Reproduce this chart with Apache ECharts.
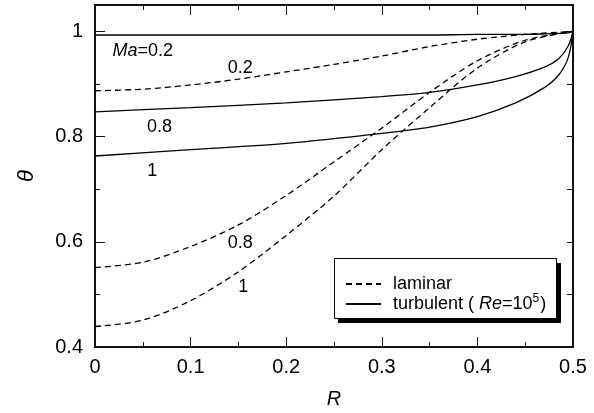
<!DOCTYPE html>
<html>
<head>
<meta charset="utf-8">
<script src="https://cdn.jsdelivr.net/npm/echarts@6/dist/echarts.min.js"></script>
<style>
  html, body { margin: 0; padding: 0; background: #fff; }
  #main { width: 594px; height: 413px; }
</style>
</head>
<body>
<div id="main"></div>
<script>
// radial positions R
var rLam = [0, 0.05, 0.1, 0.15, 0.2, 0.25, 0.3, 0.35, 0.4, 0.45, 0.5];
var rTurb = [0, 0.1, 0.2, 0.3, 0.35, 0.4, 0.44, 0.47, 0.485, 0.495, 0.5];

// laminar (dashed) theta
var lamMa02 = [0.887, 0.890, 0.898, 0.909, 0.923, 0.937, 0.953, 0.971, 0.985, 0.994, 1.0];
var lamMa08 = [0.551, 0.561, 0.591, 0.632, 0.688, 0.752, 0.816, 0.884, 0.944, 0.983, 1.0];
var lamMa1 = [0.439, 0.451, 0.488, 0.543, 0.612, 0.687, 0.775, 0.855, 0.930, 0.980, 1.0];

// turbulent (solid) theta, Re=1e5
var turbMa02 = [0.993, 0.993, 0.993, 0.993, 0.993, 0.994, 0.994, 0.995, 0.996, 0.997, 1.0];
var turbMa08 = [0.847, 0.855, 0.864, 0.876, 0.884, 0.898, 0.914, 0.932, 0.948, 0.972, 1.0];
var turbMa1 = [0.763, 0.775, 0.787, 0.806, 0.818, 0.838, 0.864, 0.893, 0.917, 0.950, 1.0];

// curve annotations [R, theta, text]
var curveLabels = [
  [0.050, 0.963, '{it|Ma}=0.2'],
  [0.152, 0.930, '0.2'],
  [0.0675, 0.819, '0.8'],
  [0.060, 0.734, '1'],
  [0.152, 0.598, '0.8'],
  [0.155, 0.514, '1']
];

var FONT = 'Liberation Sans, Arial, sans-serif';

function pairs(xs, ys) {
  return xs.map(function (x, i) { return [x, ys[i]]; });
}

function makeSeries(name, xs, ys, dashed) {
  return {
    name: name,
    type: 'line',
    data: pairs(xs, ys),
    symbol: 'none',
    smooth: 0.3,
    silent: true,
    itemStyle: { color: '#000' },
    lineStyle: { color: '#000', width: 1.3, type: dashed ? [6, 4] : 'solid' }
  };
}

var chart = echarts.init(document.getElementById('main'));

var axisLineStyle = { show: true, lineStyle: { color: '#111', width: 2 } };

var option = {
  animation: false,
  backgroundColor: '#fff',
  grid: { left: 95, right: 21, top: 5, bottom: 66, outerBoundsMode: 'none' },
  legend: {
    data: ['laminar', 'turbulent'],
    orient: 'vertical',
    left: 345,
    top: 275,
    itemWidth: 35,
    itemHeight: 14,
    itemGap: 0,
    padding: 0,
    selectedMode: false,
    itemStyle: { opacity: 0 },
    formatter: function (name) {
      return name === 'laminar' ? 'laminar' : 'turbulent ( {it|Re}={n|10}{sup|5}{n|)}';
    },
    textStyle: {
      color: '#000',
      fontFamily: FONT,
      fontSize: 18,
      padding: [0, 0, 0, 7],
      rich: {
        it: { fontStyle: 'italic', fontFamily: FONT, fontSize: 18, color: '#000' },
        n: { fontFamily: FONT, fontSize: 18, color: '#000' },
        sup: { fontFamily: FONT, fontSize: 12, color: '#000', verticalAlign: 'top', padding: [0, 1, 10, 0] }
      }
    }
  },
  xAxis: [
    {
      type: 'value', min: 0, max: 0.5, interval: 0.1, position: 'bottom',
      name: 'R', nameLocation: 'middle', nameGap: 42,
      nameTextStyle: { fontFamily: FONT, fontSize: 20, fontStyle: 'italic', color: '#000' },
      axisLine: { show: true, onZero: false, lineStyle: { color: '#111', width: 2 } },
      axisTick: { show: true, inside: true, length: 10, lineStyle: { color: '#111', width: 1 } },
      minorTick: { show: true, splitNumber: 2, length: 5, lineStyle: { color: '#111', width: 1 } },
      axisLabel: { fontFamily: FONT, fontSize: 20, color: '#000', margin: 10 },
      splitLine: { show: false }
    },
    {
      type: 'value', min: 0, max: 0.5, interval: 0.1, position: 'top',
      axisLine: { show: true, onZero: false, lineStyle: { color: '#111', width: 2 } },
      axisTick: { show: true, inside: true, length: 10, lineStyle: { color: '#111', width: 1 } },
      minorTick: { show: true, splitNumber: 2, length: 5, lineStyle: { color: '#111', width: 1 } },
      axisLabel: { show: false },
      splitLine: { show: false }
    }
  ],
  yAxis: [
    {
      type: 'value', min: 0.4, max: 1.05, interval: 0.2, position: 'left',
      name: 'θ', nameLocation: 'middle', nameGap: 57,
      nameTextStyle: { fontFamily: FONT, fontSize: 22, fontStyle: 'italic', color: '#000' },
      axisLine: axisLineStyle,
      axisTick: { show: true, inside: true, length: 10, lineStyle: { color: '#111', width: 1 } },
      axisLabel: { fontFamily: FONT, fontSize: 20, color: '#000', margin: 12, showMaxLabel: false },
      splitLine: { show: false }
    },
    {
      type: 'value', min: 0.4, max: 1.05, interval: 0.1, position: 'left',
      axisLine: { show: false },
      axisTick: { show: true, inside: true, length: 5, lineStyle: { color: '#111', width: 1 } },
      axisLabel: { show: false },
      splitLine: { show: false }
    },
    {
      type: 'value', min: 0.4, max: 1.05, interval: 0.1, position: 'right',
      axisLine: axisLineStyle,
      axisTick: { show: true, inside: true, length: 6, lineStyle: { color: '#111', width: 1 } },
      axisLabel: { show: false },
      splitLine: { show: false }
    }
  ],
  series: [
    makeSeries('laminar', rLam, lamMa02, true),
    makeSeries('laminar', rLam, lamMa08, true),
    makeSeries('laminar', rLam, lamMa1, true),
    makeSeries('turbulent', rTurb, turbMa02, false),
    makeSeries('turbulent', rTurb, turbMa08, false),
    makeSeries('turbulent', rTurb, turbMa1, false)
  ]
};

chart.setOption(option);

// curve labels placed through the axes' own scales
var graphics = curveLabels.map(function (c) {
  var p = chart.convertToPixel({ gridIndex: 0 }, [c[0], c[1]]);
  return {
    type: 'text',
    x: p[0],
    y: p[1],
    silent: true,
    style: {
      text: c[2],
      fill: '#000',
      fontFamily: FONT,
      fontSize: 18,
      align: 'center',
      verticalAlign: 'middle',
      rich: {
        it: { fontStyle: 'italic', fontFamily: FONT, fontSize: 18, fill: '#000' }
      }
    }
  };
});

// legend frame with drop shadow
graphics.push({
  type: 'rect', silent: true, z: 3,
  shape: { x: 338, y: 263, width: 223, height: 60 },
  style: { fill: '#000' }
});
graphics.push({
  type: 'rect', silent: true, z: 3,
  shape: { x: 334.5, y: 258.5, width: 222, height: 60 },
  style: { fill: '#fff', stroke: '#000', lineWidth: 1 }
});

chart.setOption({ graphic: graphics });
</script>
</body>
</html>
